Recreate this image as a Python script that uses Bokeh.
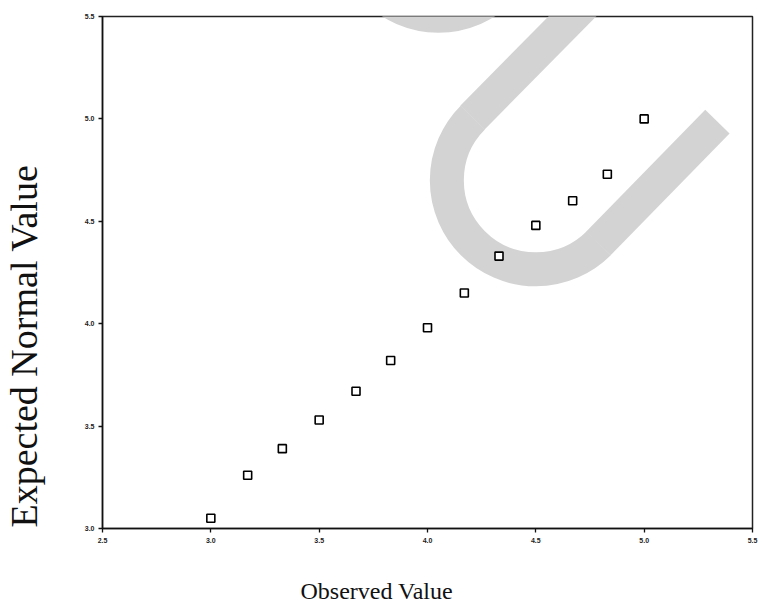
import numpy as np
from bokeh.plotting import figure
from bokeh.models import Range1d, FixedTicker, Title
from bokeh.embed import file_html
from bokeh.resources import INLINE

# --- data -------------------------------------------------------------------
observed = [3.00, 3.17, 3.33, 3.50, 3.67, 3.83, 4.00, 4.17, 4.33, 4.50, 4.67, 4.83, 5.00]
expected = [3.05, 3.26, 3.39, 3.53, 3.67, 3.82, 3.98, 4.15, 4.33, 4.48, 4.60, 4.73, 5.00]

x_ticks = [2.5, 3.0, 3.5, 4.0, 4.5, 5.0, 5.5]
x_tick_labels = ["2.5", "3.0", "3.5", "4.0", "4.5", "5.0", "5.5"]
y_ticks = [3.0, 3.5, 4.0, 4.5, 5.0, 5.5]
y_tick_labels = ["3.0", "3.5", "4.0", "4.5", "5.0", "5.5"]

x_title = "Observed Value"
y_title = "Expected Normal Value"

# grey "U" watermark of the scanned page (bend centres and straight arms)
wm_arc_x = [4.50, 4.051]
wm_arc_y = [4.70, 5.939]
wm_arm_x0 = [4.208, 4.789]
wm_arm_y0 = [5.007, 4.392]
wm_arm_x1 = [4.891, 5.338]
wm_arm_y1 = [5.739, 4.987]

# --- figure ---------------------------------------------------------------
p = figure(width=762, height=607, output_backend="svg", toolbar_location=None,
           x_range=Range1d(2.5, 5.5), y_range=Range1d(3.0, 5.5),
           min_border_left=102, min_border_right=10,
           min_border_top=16, min_border_bottom=79)
p.background_fill_color = "white"
p.border_fill_color = "white"
p.xgrid.visible = False
p.ygrid.visible = False
p.outline_line_color = "#222222"
p.outline_line_width = 1.5

wm_color = "#d3d3d3"
p.arc(x=wm_arc_x, y=wm_arc_y, radius=89, radius_units="screen",
      start_angle=np.deg2rad(135), end_angle=np.deg2rad(315),
      line_color=wm_color, line_width=34, level="underlay")
p.segment(x0=wm_arm_x0, y0=wm_arm_y0, x1=wm_arm_x1, y1=wm_arm_y1,
          line_color=wm_color, line_width=34, line_cap="butt", level="underlay")

p.scatter(observed, expected, marker="square", size=8,
          fill_color="white", line_color="black", line_width=1.6)

for ax, ticks, labels in ((p.xaxis, x_ticks, x_tick_labels), (p.yaxis, y_ticks, y_tick_labels)):
    ax.ticker = FixedTicker(ticks=ticks)
    ax.major_label_overrides = {t: l for t, l in zip(ticks, labels)}
    ax.minor_tick_line_color = None
    ax.major_tick_in = 0
    ax.major_tick_out = 4
    ax.axis_line_color = "#111111"
    ax.axis_line_width = 1.5
    ax.major_tick_line_color = "#111111"
    ax.major_tick_line_width = 1.3
    ax.major_label_text_font = "Liberation Sans"
    ax.major_label_text_font_size = "7px"
    ax.major_label_text_font_style = "bold"
    ax.major_label_text_color = "#222222"

p.xaxis.major_label_standoff = 5
p.yaxis.major_label_standoff = 4

# empty spacer panels between the axes and the axis titles
p.add_layout(Title(text=" ", standoff=27, text_font_size="1px"), "below")
p.add_layout(Title(text=" ", standoff=34, text_font_size="1px"), "left")

p.add_layout(Title(text=x_title, align="left", offset=198, standoff=0,
                   text_font="Liberation Serif", text_font_size="24px",
                   text_font_style="normal", text_color="#111111"), "below")
p.add_layout(Title(text=y_title, align="left", offset=1, standoff=0,
                   text_font="Liberation Serif", text_font_size="38px",
                   text_font_style="normal", text_color="#111111"), "left")

open("out.html", "w").write(file_html(p, INLINE))
